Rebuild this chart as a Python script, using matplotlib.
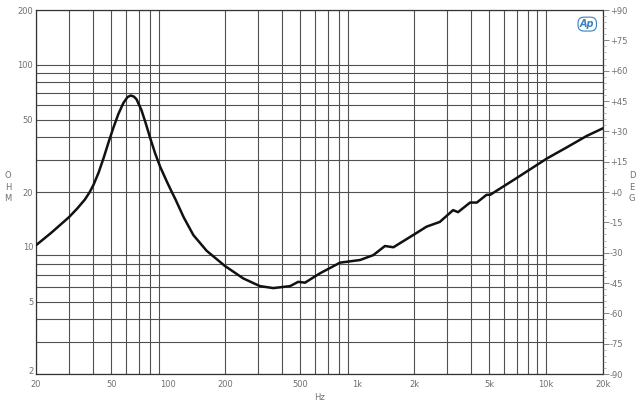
import matplotlib
matplotlib.use("Agg")
import matplotlib.pyplot as plt
import matplotlib.transforms as mtransforms
from matplotlib.ticker import FixedLocator, NullFormatter, MultipleLocator

# impedance curve
freq = [20, 24, 28, 30, 33, 36.3, 38.5, 40.3, 42.9, 45.6, 48.4, 51.3, 54.5, 57.9, 61,
        63.5, 66, 68.1, 72.3, 76.2, 80, 85.4, 90.8, 98.9, 104.6, 108.9, 121, 136, 160,
        200, 250, 306, 360, 442, 488, 530, 635, 812, 1037, 1218, 1404, 1556, 1980,
        2330, 2740, 3220, 3420, 3960, 4300, 4840, 5060, 7000, 10120, 13000, 16360, 20000]
ohm = [10.2, 11.9, 13.7, 14.6, 16.2, 18.2, 20.0, 21.9, 25.6, 30.8, 37.5, 45.0, 53.5, 61.5, 66.5,
       67.8, 66.8, 64.6, 56.3, 47.6, 40.2, 32.6, 27.5, 22.6, 20.0, 18.4, 14.5, 11.6, 9.5,
       7.84, 6.7, 6.08, 5.93, 6.08, 6.42, 6.35, 7.14, 8.18, 8.46, 9.0, 10.1, 9.94, 11.6,
       12.9, 13.7, 15.9, 15.5, 17.5, 17.5, 19.3, 19.3, 23.9, 30.6, 35.4, 40.6, 44.8]

x_ticks = [20, 50, 100, 200, 500, 1000, 2000, 5000, 10000, 20000]
x_labels = ["20", "50", "100", "200", "500", "1k", "2k", "5k", "10k", "20k"]
y_ticks = [2, 5, 10, 20, 50, 100, 200]
deg_ticks = list(range(-90, 91, 15))

grid_x = [m * d for d in (10, 100, 1000) for m in range(2, 10)] + [10000, 20000]
grid_y = [m * d for d in (1, 10) for m in range(2, 10)] + [100, 200]

label_col = "#707070"
grid_col = "#505050"

fig = plt.figure(figsize=(6.4, 4.07), dpi=100)
ax = fig.add_axes([36 / 640, 1 - 374 / 407, 567 / 640, 364 / 407])

ax.set_xscale("log")
ax.set_yscale("log")
ax.set_xlim(20, 20000)
ax.set_ylim(2, 200)

for g in grid_x:
    ax.axvline(g, color=grid_col, lw=0.8, zorder=1)
for g in grid_y:
    ax.axhline(g, color=grid_col, lw=0.8, zorder=1)

ax.plot(freq, ohm, color="#111111", lw=1.8, zorder=3,
        solid_joinstyle="round", solid_capstyle="round")

ax.xaxis.set_major_locator(FixedLocator(x_ticks))
ax.set_xticklabels(x_labels)
ax.xaxis.set_minor_formatter(NullFormatter())
ax.xaxis.set_minor_locator(FixedLocator([]))
ax.yaxis.set_major_locator(FixedLocator(y_ticks))
ax.set_yticklabels([str(v) for v in y_ticks])
ax.yaxis.set_minor_formatter(NullFormatter())
ax.yaxis.set_minor_locator(FixedLocator([]))
ax.tick_params(axis="x", length=0, labelsize=6, colors=label_col, pad=4)
ax.tick_params(axis="y", length=0, labelsize=6, colors=label_col, pad=2)

# lift the bottom "2" a little so it clears the "20" below it
lab2 = ax.get_yticklabels()[0]
lab2.set_transform(lab2.get_transform() + mtransforms.ScaledTranslation(0, 3 / 100, fig.dpi_scale_trans))

for s in ax.spines.values():
    s.set_color("#333333")
    s.set_linewidth(0.9)

ax2 = ax.twinx()
ax2.set_ylim(-90, 90)
ax2.yaxis.set_major_locator(FixedLocator(deg_ticks))
ax2.set_yticklabels([("+%d" % v) if v >= 0 else str(v) for v in deg_ticks])
ax2.yaxis.set_minor_locator(MultipleLocator(3))
ax2.tick_params(axis="y", which="major", length=4, width=0.6, colors=label_col, labelsize=6, pad=1)
ax2.tick_params(axis="y", which="minor", length=2, width=0.5, colors="#999999")
for s in ax2.spines.values():
    s.set_visible(False)

ax.set_xlabel("Hz", fontsize=6, color=label_col, labelpad=3)

fig.text(8 / 640, 1 - 187 / 407, "O\nH\nM", fontsize=6, color=label_col,
         ha="center", va="center", linespacing=1.3)
fig.text(632 / 640, 1 - 187 / 407, "D\nE\nG", fontsize=6, color=label_col,
         ha="center", va="center", linespacing=1.3)

ax.text(0.985, 0.975, "Ap", transform=ax.transAxes, fontsize=7, color="#3a7fc0",
        style="italic", fontweight="bold", ha="right", va="top", zorder=4,
        bbox=dict(boxstyle="round,pad=0.2,rounding_size=0.6", fc="white", ec="#3a7fc0", lw=0.8))

fig.savefig("out.png", dpi=100)
